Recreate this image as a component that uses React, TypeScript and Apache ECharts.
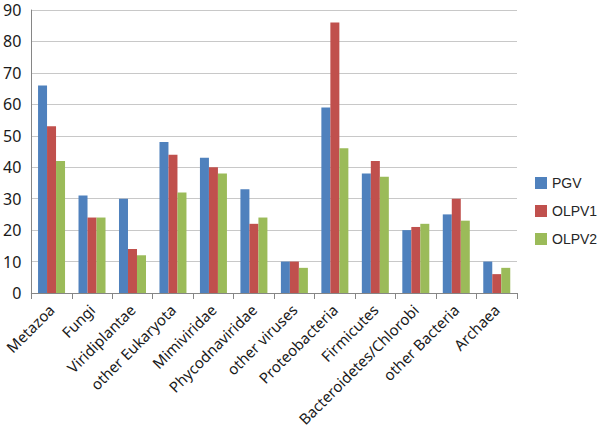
import React, { useEffect, useRef } from "react";
import * as echarts from "echarts";

const categories = [
  "Metazoa",
  "Fungi",
  "Viridiplantae",
  "other Eukaryota",
  "Mimiviridae",
  "Phycodnaviridae",
  "other viruses",
  "Proteobacteria",
  "Firmicutes",
  "Bacteroidetes/Chlorobi",
  "other Bacteria",
  "Archaea",
];
const pgv = [66, 31, 30, 48, 43, 33, 10, 59, 38, 20, 25, 10];
const olpv1 = [53, 24, 14, 44, 40, 22, 10, 86, 42, 21, 30, 6];
const olpv2 = [42, 24, 12, 32, 38, 24, 8, 46, 37, 22, 23, 8];
const seriesNames = ["PGV", "OLPV1", "OLPV2"];
const colors = ["#4F81BD", "#C0504D", "#9BBB59"];

export default function App() {
  const ref = useRef<HTMLDivElement>(null);
  useEffect(() => {
    if (!ref.current) return;
    const chart = echarts.init(ref.current, undefined, { renderer: "svg" });
    const font = "Noto Sans";
    const data = [pgv, olpv1, olpv2];
    chart.setOption({
      animation: false,
      backgroundColor: "#ffffff",
      textStyle: { fontFamily: font },
      grid: { left: 31, right: 83, top: 10, bottom: 142, containLabel: false },
      legend: {
        orient: "vertical",
        left: 535,
        top: 176,
        itemWidth: 12,
        itemHeight: 12,
        itemGap: 14,
        icon: "rect",
        padding: 0,
        textStyle: { fontFamily: "Liberation Sans", fontSize: 14, color: "#262626" },
        data: seriesNames,
      },
      xAxis: {
        type: "category",
        data: categories,
        axisLine: { lineStyle: { color: "#868686", width: 1 } },
        axisTick: { show: true, length: 6, lineStyle: { color: "#868686" } },
        axisLabel: {
          rotate: 45,
          interval: 0,
          fontFamily: font,
          fontSize: 15,
          color: "#1a1a1a",
          margin: 14,
        },
      },
      yAxis: {
        type: "value",
        min: 0,
        max: 90,
        interval: 10,
        axisLine: { show: true, lineStyle: { color: "#868686", width: 1 } },
        axisTick: { show: false },
        splitLine: { lineStyle: { color: "#c8c8c8", width: 1 } },
        axisLabel: { fontFamily: font, fontSize: 16, lineHeight: 15, color: "#1a1a1a", margin: 10 },
      },
      series: seriesNames.map((name, i) => ({
        name,
        type: "bar",
        data: data[i],
        barWidth: 9,
        barGap: "0%",
        itemStyle: { color: colors[i] },
      })),
    });
    return () => chart.dispose();
  }, []);
  return <div ref={ref} style={{ width: 600, height: 435, position: "absolute", left: 0, top: 0 }} />;
}
